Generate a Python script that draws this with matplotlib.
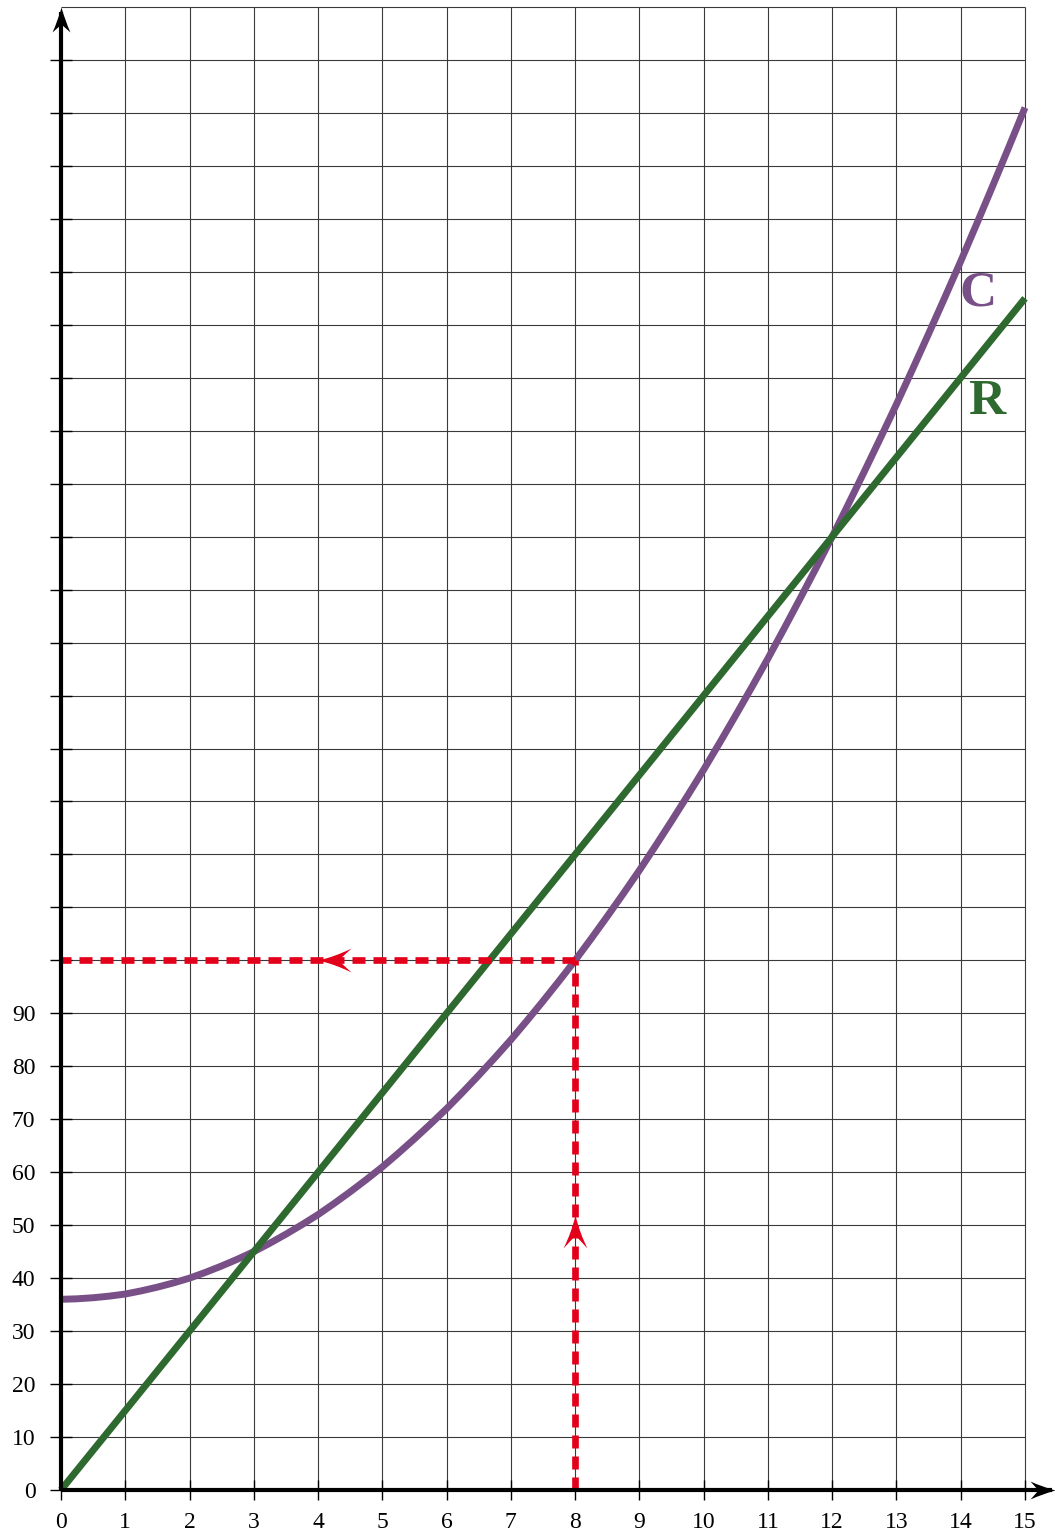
import matplotlib
matplotlib.use("Agg")
import matplotlib.pyplot as plt
from matplotlib.path import Path
from matplotlib.markers import MarkerStyle

# ---- data ----
x_c = [0, 0.25, 0.5, 0.75, 1, 1.25, 1.5, 1.75, 2, 2.25, 2.5, 2.75, 3, 3.25, 3.5, 3.75,
       4, 4.25, 4.5, 4.75, 5, 5.25, 5.5, 5.75, 6, 6.25, 6.5, 6.75, 7, 7.25, 7.5, 7.75,
       8, 8.25, 8.5, 8.75, 9, 9.25, 9.5, 9.75, 10, 10.25, 10.5, 10.75, 11, 11.25, 11.5,
       11.75, 12, 12.25, 12.5, 12.75, 13, 13.25, 13.5, 13.75, 14, 14.25, 14.5, 14.75, 15]
y_c = [36, 36.1, 36.3, 36.6, 37, 37.6, 38.3, 39.1, 40, 41.1, 42.3, 43.6, 45, 46.6,
       48.3, 50.1, 52, 54.1, 56.3, 58.6, 61, 63.6, 66.3, 69.1, 72, 75.1, 78.3, 81.6,
       85, 88.6, 92.3, 96.1, 100, 104.1, 108.3, 112.6, 117, 121.6, 126.3, 131.1, 136,
       141.1, 146.3, 151.6, 157, 162.6, 168.3, 174.1, 180, 186.1, 192.3, 198.6, 205,
       211.6, 218.3, 225.1, 232, 239.1, 246.3, 253.6, 261]
x_r = [0, 15]
y_r = [0, 225]
x_ticks = list(range(0, 16))
y_ticks = list(range(0, 280, 10))
y_labels = [str(v) if v <= 90 else "" for v in y_ticks]
grid_y = list(range(10, 290, 10))
grid_x = list(range(1, 16))
target_x = 8
target_y = 100
arrow_up_tip = (8, 52)
arrow_left_tip = (4, 100)

PURPLE = "#785087"
GREEN = "#2e6a2f"
RED = "#e3001b"

plt.rcParams['font.family'] = ['Liberation Serif', 'DejaVu Serif']

fig = plt.figure(figsize=(10.55, 15.35), dpi=100)
ax = fig.add_axes([61 / 1055, 45 / 1535, 964 / 1055, 1483 / 1535])
ax.set_xlim(0, 15)
ax.set_ylim(0, 280)
for s in ax.spines.values():
    s.set_visible(False)

# grid
ax.hlines(grid_y, 0, 15, color="#3a3a3a", lw=0.8, zorder=1, clip_on=False)
ax.vlines(grid_x, 0, 280, color="#3a3a3a", lw=0.8, zorder=1, clip_on=False)

# ticks
ax.set_xticks(x_ticks)
ax.set_xticklabels([str(v) for v in x_ticks])
ax.set_yticks(y_ticks)
ax.set_yticklabels(y_labels)
ax.tick_params(axis='x', direction='inout', length=14, width=1.0, pad=9,
               labelsize=17, colors='black')
ax.tick_params(axis='y', direction='inout', length=15.8, width=1.0, pad=10.5,
               labelsize=17, colors='black')

# arrowhead marker shapes (pixels, tip at origin, pointing up)
def stealth(hw, ln, notch, ctrl):
    verts = [(0, 0), (-ctrl[0], -ctrl[1]), (-hw, -ln), (0, -notch),
             (hw, -ln), (ctrl[0], -ctrl[1]), (0, 0), (0, 0)]
    codes = [Path.MOVETO, Path.CURVE3, Path.CURVE3, Path.LINETO,
             Path.LINETO, Path.CURVE3, Path.CURVE3, Path.CLOSEPOLY]
    return verts, codes

def rot_left(verts):
    return [(-y, x) for (x, y) in verts]

def rot_right(verts):
    return [(y, -x) for (x, y) in verts]

# axes
ax.plot([0, 15.42], [0, 0], color="black", lw=3.0, zorder=6, clip_on=False,
        solid_capstyle='butt')
ax.plot([0, 0], [0, 279], color="black", lw=3.0, zorder=6, clip_on=False,
        solid_capstyle='butt')
v, c = stealth(9, 25, 17, (3.5, 13))
up_black = MarkerStyle(Path(v, c))
right_black = MarkerStyle(Path(rot_right(v), c))
ax.plot([0], [280], marker=up_black, markersize=2 * 25 * 0.72, color="black",
        markeredgewidth=0, zorder=7, clip_on=False)
ax.plot([15.47], [0], marker=right_black, markersize=2 * 25 * 0.72, color="black",
        markeredgewidth=0, zorder=7, clip_on=False)

# curves
ax.plot(x_c, y_c, color=PURPLE, lw=5.0, zorder=3, solid_joinstyle='round',
        solid_capstyle='butt', clip_on=False)
ax.plot(x_r, y_r, color=GREEN, lw=5.0, zorder=4, solid_capstyle='butt',
        clip_on=False)

# red dashed reading lines
ax.plot([target_x, target_x], [0, target_y], color=RED, lw=4.8, zorder=5,
        dashes=(1.95, 1.2), dash_capstyle='butt')
ax.plot([target_x, 0], [target_y, target_y], color=RED, lw=4.8, zorder=5,
        dashes=(1.95, 1.2), dash_capstyle='butt')
v, c = stealth(12, 33, 20, (4, 17))
up_red = MarkerStyle(Path(v, c))
left_red = MarkerStyle(Path(rot_left(v), c))
ax.plot([arrow_up_tip[0]], [arrow_up_tip[1]], marker=up_red, markersize=2 * 33 * 0.72,
        color=RED, markeredgewidth=0, zorder=6)
ax.plot([arrow_left_tip[0]], [arrow_left_tip[1]], marker=left_red,
        markersize=2 * 33 * 0.72, color=RED, markeredgewidth=0, zorder=6)

# labels
ax.text(14.27, 226, "C", color=PURPLE, fontsize=37, fontweight='bold',
        ha='center', va='center', zorder=8)
ax.text(14.41, 205.5, "R", color=GREEN, fontsize=37, fontweight='bold',
        ha='center', va='center', zorder=8)

fig.savefig("out.png", dpi=100)
